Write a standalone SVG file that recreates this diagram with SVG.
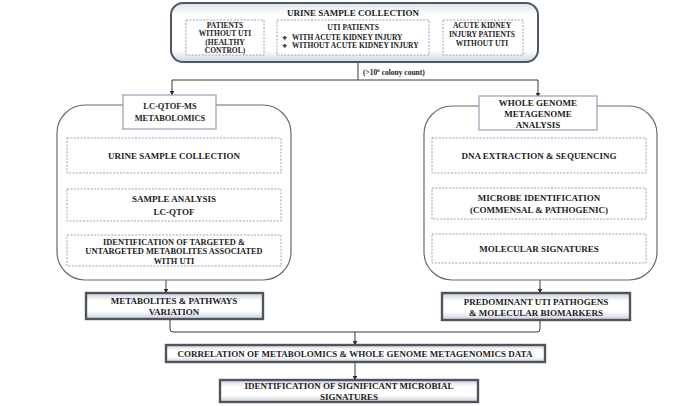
<svg xmlns="http://www.w3.org/2000/svg" width="696" height="406" viewBox="0 0 696 406">
<style>
text{font-family:"Liberation Serif","Times New Roman",serif;font-weight:bold;fill:#1c1c1c;text-anchor:middle}
.s75{font-size:7.5px}
.s9{font-size:9px}
.s85{font-size:8.4px}
.dash{fill:#fff;stroke:#97a4b5;stroke-width:1;stroke-dasharray:2 1.4}
.panel{fill:#fff;stroke:#6a6a6a;stroke-width:1.2}
.title{fill:#fff;stroke:#8fa2b6;stroke-width:1.2}
.res{fill:url(#g);stroke:#4f555e;stroke-width:2.4}
.line{fill:none;stroke:#3a3a3a;stroke-width:1}
.bul{font-family:"DejaVu Sans",sans-serif;font-size:6px;text-anchor:start}
</style>
<defs>
<linearGradient id="g" x1="0" y1="0" x2="0" y2="1">
<stop offset="0" stop-color="#c9ced6"/>
<stop offset="0.3" stop-color="#ffffff"/>
<stop offset="0.7" stop-color="#ffffff"/>
<stop offset="1" stop-color="#c9ced6"/>
</linearGradient>
<linearGradient id="gt" x1="0" y1="0" x2="0" y2="1">
<stop offset="0" stop-color="#dce2ea"/>
<stop offset="0.2" stop-color="#ffffff"/>
<stop offset="0.8" stop-color="#ffffff"/>
<stop offset="1" stop-color="#cfd6e0"/>
</linearGradient>
<marker id="ar" markerWidth="5" markerHeight="5" refX="4.5" refY="2.5" orient="auto" markerUnits="userSpaceOnUse">
<path d="M0,0 L5,2.5 L0,5 Z" fill="#2a2a2a"/>
</marker>
</defs>

<g id="connectors">
<path class="line" d="M358,62 V80"/>
<path class="line" d="M172,80 H538"/>
<path class="line" d="M172,80 V95" marker-end="url(#ar)"/>
<path class="line" d="M538,80 V97" marker-end="url(#ar)"/>
<path class="line" d="M165,173 V188" marker-end="url(#ar)"/>
<path class="line" d="M165,221 V235" marker-end="url(#ar)"/>
<path class="line" d="M166,280 V293" marker-end="url(#ar)"/>
<path class="line" d="M540,173 V188" marker-end="url(#ar)"/>
<path class="line" d="M540,219 V234" marker-end="url(#ar)"/>
<path class="line" d="M540,280 V293" marker-end="url(#ar)"/>
<path class="line" d="M170,320 V329 Q170,332 173,332 H537 Q540,332 540,329 V321"/>
<path class="line" d="M355,332 V345" marker-end="url(#ar)"/>
<path class="line" d="M355,362 V380" marker-end="url(#ar)"/>
</g>

<g id="urine-collection">
<rect x="171" y="3" width="367" height="59" rx="12" fill="url(#gt)" stroke="#4d5866" stroke-width="2"/>
<text class="s9" x="353" y="15.5" font-size="8.8">URINE SAMPLE COLLECTION</text>
</g>
<g id="healthy-control">
<rect class="dash" x="186" y="20" width="78" height="35"/>
<text class="s75" x="225" y="27.5">PATIENTS</text>
<text class="s75" x="225" y="36">WITHOUT UTI</text>
<text class="s75" x="225" y="44.5">(HEALTHY</text>
<text class="s75" x="225" y="53">CONTROL)</text>
</g>
<g id="uti-patients">
<rect class="dash" x="277" y="20" width="152" height="35"/>
<text class="s75" x="353" y="30">UTI PATIENTS</text>
<text class="bul" x="282" y="39.5">❖</text>
<text class="s75" x="292" y="39.5" style="text-anchor:start">WITH ACUTE KIDNEY INJURY</text>
<text class="bul" x="282" y="48">❖</text>
<text class="s75" x="292" y="48" style="text-anchor:start">WITHOUT ACUTE KIDNEY INJURY</text>
</g>
<g id="aki-patients">
<rect class="dash" x="443" y="20" width="80" height="35"/>
<text class="s75" x="482" y="28">ACUTE KIDNEY</text>
<text class="s75" x="482" y="37">INJURY PATIENTS</text>
<text class="s75" x="482" y="46">WITHOUT UTI</text>
</g>
<g id="colony-label">
<text class="s75" x="363" y="75" style="text-anchor:start">(&gt;10<tspan dy="-3" font-size="5px">6</tspan><tspan dy="3"> colony count)</tspan></text>
</g>

<g id="metabolomics-panel">
<rect class="panel" x="57" y="105" width="234" height="175" rx="28"/>
</g>
<g id="lcqtof-title">
<rect class="title" x="123" y="95" width="93" height="34"/>
<text class="s85" x="170" y="108.5">LC-QTOF-MS</text>
<text class="s85" x="170" y="120.5">METABOLOMICS</text>
</g>
<g id="m-urine">
<rect class="dash" x="67" y="138" width="214" height="35"/>
<text class="s9" x="174" y="159">URINE SAMPLE COLLECTION</text>
</g>
<g id="m-analysis">
<rect class="dash" x="67" y="189" width="214" height="32"/>
<text class="s9" x="174" y="202">SAMPLE ANALYSIS</text>
<text class="s9" x="174" y="215">LC-QTOF</text>
</g>
<g id="m-ident">
<rect class="dash" x="67" y="235" width="214" height="31"/>
<text class="s85" x="174" y="244.5">IDENTIFICATION OF TARGETED &amp;</text>
<text class="s85" x="174" y="254">UNTARGETED METABOLITES ASSOCIATED</text>
<text class="s85" x="174" y="263.5">WITH UTI</text>
</g>
<g id="m-result">
<rect class="res" x="86" y="293" width="177" height="26"/>
<text class="s9" x="174" y="303.5">METABOLITES &amp; PATHWAYS</text>
<text class="s9" x="174" y="315">VARIATION</text>
</g>

<g id="wgs-panel">
<rect class="panel" x="424" y="106" width="233" height="174" rx="28"/>
</g>
<g id="wgs-title">
<rect class="title" x="479" y="96" width="118" height="34"/>
<text class="s9" x="538" y="105.5">WHOLE GENOME</text>
<text class="s9" x="538" y="116.5">METAGENOME</text>
<text class="s9" x="538" y="127.5">ANALYSIS</text>
</g>
<g id="w-dna">
<rect class="dash" x="432" y="138" width="214" height="35"/>
<text class="s9" x="539" y="159">DNA EXTRACTION &amp; SEQUENCING</text>
</g>
<g id="w-microbe">
<rect class="dash" x="432" y="188" width="214" height="31"/>
<text class="s9" x="539" y="201">MICROBE IDENTIFICATION</text>
<text class="s9" x="539" y="213">(COMMENSAL &amp; PATHOGENIC)</text>
</g>
<g id="w-molecular">
<rect class="dash" x="432" y="234" width="214" height="29"/>
<text class="s9" x="539" y="252">MOLECULAR SIGNATURES</text>
</g>
<g id="w-result">
<rect class="res" x="442" y="293" width="188" height="27"/>
<text class="s9" x="536" y="304.5">PREDOMINANT UTI PATHOGENS</text>
<text class="s9" x="536" y="316">&amp; MOLECULAR BIOMARKERS</text>
</g>

<g id="correlation">
<rect class="res" x="166" y="345" width="379" height="17"/>
<text class="s9" x="355" y="356.5">CORRELATION OF METABOLOMICS &amp; WHOLE GENOME METAGENOMICS DATA</text>
</g>
<g id="signatures">
<rect class="res" x="220" y="380" width="258" height="22"/>
<text class="s9" x="349" y="389">IDENTIFICATION OF SIGNIFICANT MICROBIAL</text>
<text class="s9" x="349" y="400">SIGNATURES</text>
</g>
</svg>
